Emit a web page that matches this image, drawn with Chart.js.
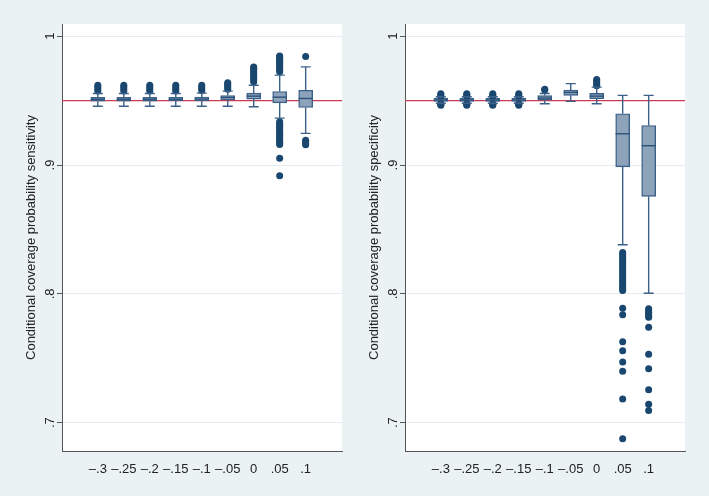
<!DOCTYPE html>
<html>
<head>
<meta charset="utf-8">
<script src="https://cdn.jsdelivr.net/npm/chart.js@4"></script>
<style>
  html, body { margin: 0; padding: 0; background: #eaf2f3; }
  #wrap { position: relative; width: 709px; height: 496px; overflow: hidden; }
  canvas { position: absolute; top: 0; }
  #sens { left: 0; }
  #spec { left: 343px; }
</style>
</head>
<body>
<div id="wrap">
  <canvas id="sens" width="350" height="496"></canvas>
  <canvas id="spec" width="350" height="496"></canvas>
</div>
<script>
// categories on the x axis (delta values)
const categories = ['\u2013.3', '\u2013.25', '\u2013.2', '\u2013.15', '\u2013.1', '\u2013.05', '0', '.05', '.1'];
const yTicks = [0.7, 0.8, 0.9, 1];
const yTickLabels = ['.7', '.8', '.9', '1'];
const refLine = 0.95;

// sensitivity panel: box stats per category
const sensLo  = [0.9457, 0.9457, 0.9457, 0.9457, 0.9457, 0.9457, 0.9452, 0.9364, 0.9246];
const sensQ1  = [0.9496, 0.9496, 0.9496, 0.9497, 0.9498, 0.9506, 0.9512, 0.9483, 0.9447];
const sensMed = [0.9510, 0.9510, 0.9510, 0.9511, 0.9512, 0.9525, 0.9535, 0.9527, 0.9517];
const sensQ3  = [0.9525, 0.9525, 0.9525, 0.9526, 0.9528, 0.9540, 0.9558, 0.9571, 0.9581];
const sensHi  = [0.9556, 0.9556, 0.9556, 0.9556, 0.9558, 0.9574, 0.9620, 0.9698, 0.9762];
const sensOut = [
  [0.9575, 0.9590, 0.9605, 0.9620],
  [0.9575, 0.9590, 0.9605, 0.9620],
  [0.9575, 0.9590, 0.9605, 0.9620],
  [0.9575, 0.9590, 0.9605, 0.9620],
  [0.9578, 0.9592, 0.9606, 0.9620],
  [0.9588, 0.9602, 0.9616, 0.9630, 0.9638],
  [0.9647, 0.9660, 0.9674, 0.9688, 0.9702, 0.9716, 0.9730, 0.9744, 0.9755, 0.9761],
  [0.9725, 0.9738, 0.9751, 0.9764, 0.9777, 0.9790, 0.9803, 0.9816, 0.9829, 0.9841, 0.9847,
   0.9337, 0.9323, 0.9309, 0.9295, 0.9281, 0.9267, 0.9253, 0.9239, 0.9225, 0.9211, 0.9197,
   0.9183, 0.9169, 0.9159, 0.9052, 0.8917],
  [0.9843, 0.9192, 0.9180, 0.9168, 0.9157]
];

// specificity panel
const specLo  = [0.9480, 0.9480, 0.9480, 0.9480, 0.9476, 0.9494, 0.9476, 0.8381, 0.8005];
const specQ1  = [0.9494, 0.9494, 0.9494, 0.9494, 0.9504, 0.9541, 0.9515, 0.8986, 0.8757];
const specMed = [0.9505, 0.9505, 0.9505, 0.9505, 0.9520, 0.9564, 0.9535, 0.9243, 0.9150];
const specQ3  = [0.9520, 0.9520, 0.9520, 0.9520, 0.9539, 0.9582, 0.9556, 0.9398, 0.9307];
const specHi  = [0.9530, 0.9530, 0.9530, 0.9530, 0.9555, 0.9632, 0.9605, 0.9541, 0.9541];
const specOut = [
  [0.9535, 0.9545, 0.9553, 0.9475, 0.9470, 0.9465],
  [0.9535, 0.9545, 0.9553, 0.9475, 0.9470, 0.9465],
  [0.9535, 0.9545, 0.9553, 0.9475, 0.9470, 0.9465],
  [0.9535, 0.9545, 0.9553, 0.9475, 0.9470, 0.9465],
  [0.9582, 0.9589],
  [],
  [0.9615, 0.9628, 0.9641, 0.9654, 0.9664],
  [0.8322, 0.8305, 0.8288, 0.8270, 0.8252, 0.8235, 0.8218, 0.8200, 0.8183, 0.8165, 0.8148,
   0.8130, 0.8112, 0.8095, 0.8078, 0.8060, 0.8043, 0.8027, 0.7888, 0.7837, 0.7628, 0.7558,
   0.7470, 0.7400, 0.7183, 0.6876],
  [0.7884, 0.7870, 0.7857, 0.7845, 0.7832, 0.7819, 0.7741, 0.7532, 0.7419, 0.7256, 0.7142, 0.7095]
];

const FONT = '"Liberation Sans", Arial, Helvetica, sans-serif';
const navy = '#1a476f';
const boxLine = '#3b6189';
const boxFill = 'rgb(141,163,185)';

// white plot region, reference line, whiskers, rotated y labels
const boxPlugin = {
  id: 'boxExtras',
  beforeDraw(chart) {
    const a = chart.chartArea, ctx = chart.ctx;
    ctx.save();
    ctx.fillStyle = '#ffffff';
    ctx.fillRect(a.left, a.top, a.right - a.left, a.bottom - a.top);
    ctx.restore();
  },
  beforeDatasetsDraw(chart) {
    const a = chart.chartArea, ctx = chart.ctx;
    const y = chart.scales.y.getPixelForValue(refLine);
    ctx.save();
    ctx.strokeStyle = '#cc3d55';
    ctx.lineWidth = 1.3;
    ctx.beginPath();
    ctx.moveTo(a.left, y);
    ctx.lineTo(a.right, y);
    ctx.stroke();
    ctx.restore();
  },
  afterDatasetsDraw(chart, args, opts) {
    const ctx = chart.ctx, xs = chart.scales.x, ys = chart.scales.y;
    ctx.save();
    ctx.strokeStyle = boxLine;
    ctx.lineWidth = 1.4;
    opts.med.forEach((m, i) => {
      const x = xs.getPixelForValue(i + 1);
      const lo = ys.getPixelForValue(opts.lo[i]);
      const q1 = ys.getPixelForValue(opts.q1[i]);
      const q3 = ys.getPixelForValue(opts.q3[i]);
      const hi = ys.getPixelForValue(opts.hi[i]);
      ctx.beginPath();
      ctx.moveTo(x, q3); ctx.lineTo(x, hi);
      ctx.moveTo(x - 5, hi); ctx.lineTo(x + 5, hi);
      ctx.moveTo(x, q1); ctx.lineTo(x, lo);
      ctx.moveTo(x - 5, lo); ctx.lineTo(x + 5, lo);
      ctx.stroke();
      const my = ys.getPixelForValue(m);
      ctx.beginPath();
      ctx.strokeStyle = '#2c5079';
      ctx.moveTo(x - 7, my); ctx.lineTo(x + 7, my);
      ctx.stroke();
      ctx.strokeStyle = boxLine;
    });
    ctx.restore();
  },
  afterDraw(chart, args, opts) {
    const ctx = chart.ctx, ys = chart.scales.y, a = chart.chartArea;
    ctx.save();
    ctx.fillStyle = '#222';
    ctx.font = '13px ' + FONT;
    ctx.textAlign = 'center';
    ctx.textBaseline = 'middle';
    yTicks.forEach((v, i) => {
      ctx.save();
      ctx.translate(a.left - 12, ys.getPixelForValue(v));
      ctx.rotate(-Math.PI / 2);
      ctx.fillText(yTickLabels[i], 0, 0);
      ctx.restore();
    });
    ctx.translate(31, (a.top + a.bottom) / 2);
    ctx.rotate(-Math.PI / 2);
    ctx.fillText(opts.title, 0, 0);
    ctx.restore();
  }
};

function makePanel(id, title, lo, q1, med, q3, hi, out) {
  const boxes = q1.map((v, i) => ({ x: i + 1, y: [v, q3[i]] }));
  const points = [];
  out.forEach((list, i) => list.forEach(v => points.push({ x: i + 1, y: v })));

  return new Chart(document.getElementById(id), {
    type: 'bar',
    data: {
      datasets: [
        {
          type: 'bar',
          data: boxes,
          backgroundColor: boxFill,
          borderColor: boxLine,
          borderWidth: 1.4,
          borderSkipped: false,
          barThickness: 14,
          order: 2
        },
        {
          type: 'scatter',
          data: points,
          pointRadius: 3.5,
          pointBackgroundColor: navy,
          pointBorderColor: navy,
          pointBorderWidth: 0,
          order: 1
        }
      ]
    },
    options: {
      responsive: false,
      animation: false,
      layout: { padding: { left: 0, top: 24, right: 8, bottom: 0 } },
      plugins: {
        legend: { display: false },
        tooltip: { enabled: false },
        boxExtras: { lo, q1, med, q3, hi, title }
      },
      scales: {
        x: {
          type: 'linear',
          min: 0.22,
          max: 9.8,
          afterBuildTicks: s => { s.ticks = categories.map((c, i) => ({ value: i + 1 })); },
          afterFit: s => { s.height = 45; },
          grid: { display: false },
          border: { display: true, color: '#555', width: 1 },
          ticks: {
            callback: v => categories[Math.round(v) - 1],
            color: '#222',
            font: { size: 13, family: FONT },
            padding: 3,
            maxRotation: 0,
            autoSkip: false
          }
        },
        y: {
          type: 'linear',
          min: 0.678,
          max: 1.0095,
          afterBuildTicks: s => { s.ticks = yTicks.map(v => ({ value: v })); },
          afterFit: s => { s.width = 62; },
          grid: { color: '#e4eef0', lineWidth: 1, tickLength: 5, tickColor: '#555', drawTicks: true },
          border: { display: true, color: '#555', width: 1 },
          ticks: { color: 'rgba(0,0,0,0)', font: { size: 13, family: FONT } }
        }
      }
    },
    plugins: [boxPlugin]
  });
}

makePanel('sens', 'Conditional coverage probability sensitivity',
  sensLo, sensQ1, sensMed, sensQ3, sensHi, sensOut);
makePanel('spec', 'Conditional coverage probability specificity',
  specLo, specQ1, specMed, specQ3, specHi, specOut);
</script>
</body>
</html>
